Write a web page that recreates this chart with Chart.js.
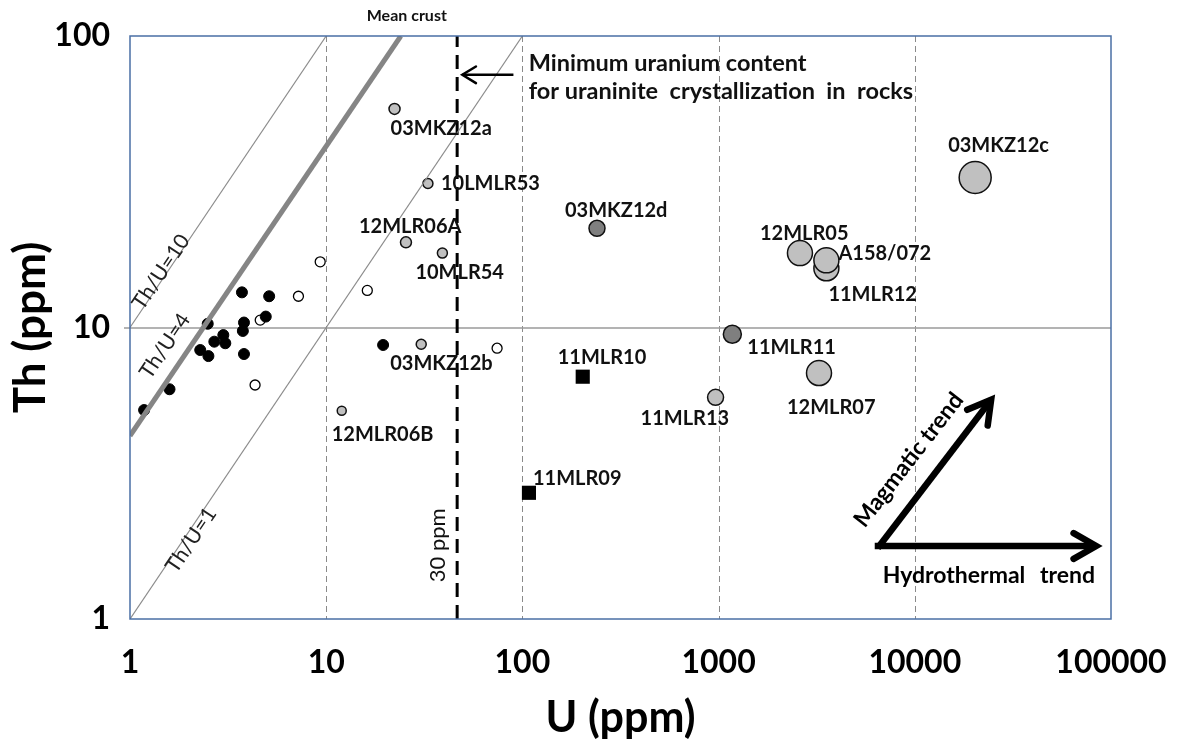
<!DOCTYPE html>
<html><head><meta charset="utf-8">
<script src="https://cdn.jsdelivr.net/npm/chart.js@4.4.1/dist/chart.umd.min.js"></script>
<style>html,body{margin:0;padding:0;background:#fff;}canvas{display:block;}</style>
</head><body>
<canvas id="c" width="1182" height="746"></canvas>
<script>
// ---------- data ----------
const xTicks = [1, 10, 100, 1000, 10000, 100000];
const yTicks = [1, 10, 100];
const xGrid = [10, 100, 1000, 10000];
const yGrid = [10];

const blackU  = [3.72, 5.12, 2.49, 3.81, 4.92, 2.99, 2.69, 3.06, 3.76, 2.28, 2.51, 3.81, 1.59, 1.18, 19.5];
const blackTh = [13.2, 12.8, 10.3, 10.4, 10.9, 9.42, 8.94, 8.83, 9.73, 8.37, 7.98, 8.11, 6.14, 5.21, 8.71];

const openU  = [9.32, 7.22, 4.61, 4.34, 16.2, 74.3];
const openTh = [16.8, 12.8, 10.6, 6.35, 13.4, 8.49];

const grayLabels = ['03MKZ12a','10LMLR53','12MLR06A','10MLR54','03MKZ12b','12MLR06B','11MLR13','12MLR05','11MLR12','A158/072','12MLR07','03MKZ12c'];
const grayU  = [22.3, 33.0, 25.5, 39.1, 30.5, 12.0, 965, 2598, 3543, 3543, 3249, 20310];
const grayTh = [56.2, 31.2, 19.6, 18.0, 8.76, 5.18, 5.76, 18.0, 15.96, 17.0, 6.98, 32.7];

const darkLabels = ['03MKZ12d', '11MLR11'];
const darkU  = [240, 1175];
const darkTh = [21.9, 9.48];

const squareLabels = ['11MLR10', '11MLR09'];
const squareU  = [203, 108];
const squareTh = [6.78, 2.71];

const ratio10U = [1, 10],  ratio10Th = [10, 100];
const ratio1U  = [1, 100], ratio1Th  = [1, 100];
const crustU   = [1, 24], crustTh  = [4.25, 100];
const minUraniumU = [46.5, 46.5], minUraniumTh = [1, 100];

// ---------- styles ----------
const FONT = 'Lato, "Open Sans", sans-serif';
const grayRadius = [5.5, 5, 5.5, 5, 5, 4.5, 8, 12.5, 12.5, 12.5, 12.5, 16];
const labelOffset = {
  '03MKZ12a':[-4,20], '10LMLR53':[13,0], '12MLR06A':[-47,-16], '10MLR54':[-27,19],
  '03MKZ12b':[-31,19], '12MLR06B':[-10,24], '11MLR13':[-75,21], '12MLR05':[-40,-20],
  '11MLR12':[2,26], 'A158/072':[12,-7], '12MLR07':[-32,35], '03MKZ12c':[-27,-32],
  '03MKZ12d':[-32,-18], '11MLR11':[15,13], '11MLR10':[-25,-19], '11MLR09':[4,-14]
};

const pts = (us, ts) => us.map((u, i) => ({x: u, y: ts[i]}));

const refLine = (us, ts, color, width, dash) => ({
  type: 'line', data: pts(us, ts), borderColor: color, borderWidth: width,
  borderDash: dash || [], pointRadius: 0, showLine: true, fill: false, tension: 0
});

const datasets = [
  refLine(ratio10U, ratio10Th, '#8c8c8c', 1.2),
  refLine(ratio1U, ratio1Th, '#8c8c8c', 1.2),
  refLine(crustU, crustTh, '#858585', 5),
  refLine(minUraniumU, minUraniumTh, '#000000', 3, [14, 8]),
  { data: pts(blackU, blackTh), pointRadius: 5.5, pointBackgroundColor: '#000', pointBorderColor: '#000', pointBorderWidth: 1 },
  { data: pts(openU, openTh), pointRadius: 5, pointBackgroundColor: '#fff', pointBorderColor: '#000', pointBorderWidth: 1.3 },
  { data: pts(grayU, grayTh), labels: grayLabels, pointRadius: grayRadius, pointBackgroundColor: '#c0c0c0', pointBorderColor: '#111', pointBorderWidth: 1.5 },
  { data: pts(darkU, darkTh), labels: darkLabels, pointRadius: [8, 9], pointBackgroundColor: '#7f7f7f', pointBorderColor: '#111', pointBorderWidth: 1.5 },
  { data: pts(squareU, squareTh), labels: squareLabels, pointStyle: 'rect', pointRadius: 10, pointBackgroundColor: '#000', pointBorderColor: '#000', pointBorderWidth: 0 }
];

// annotation text anchors (data coords)
const noteText = ['Th/U=10', 'Th/U=4', 'Th/U=1'];
const noteU  = [1.44, 1.51, 2.05];
const noteTh = [15.5, 8.64, 1.866];

function arrow(ctx, x1, y1, x2, y2, w, arm, ang) {
  ctx.save();
  ctx.strokeStyle = '#000'; ctx.lineWidth = w; ctx.lineCap = 'butt';
  ctx.beginPath(); ctx.moveTo(x1, y1); ctx.lineTo(x2, y2); ctx.stroke();
  const a = Math.atan2(y2 - y1, x2 - x1);
  ctx.lineCap = 'round'; ctx.lineJoin = 'miter';
  ctx.beginPath();
  ctx.moveTo(x2 - arm * Math.cos(a - ang), y2 - arm * Math.sin(a - ang));
  ctx.lineTo(x2, y2);
  ctx.lineTo(x2 - arm * Math.cos(a + ang), y2 - arm * Math.sin(a + ang));
  ctx.stroke();
  ctx.restore();
}

const frame = {
  id: 'frame',
  beforeDatasetsDraw(chart) {
    const {ctx, chartArea: a, scales: {x, y}} = chart;
    ctx.save();
    ctx.strokeStyle = '#8a8a8a'; ctx.lineWidth = 1; ctx.setLineDash([6, 4]);
    xGrid.forEach(v => { const p = Math.round(x.getPixelForValue(v)) + 0.5; ctx.beginPath(); ctx.moveTo(p, a.top); ctx.lineTo(p, a.bottom); ctx.stroke(); });
    ctx.setLineDash([]); ctx.strokeStyle = '#9a9a9a'; ctx.lineWidth = 1.5;
    yGrid.forEach(v => { const p = Math.round(y.getPixelForValue(v)); ctx.beginPath(); ctx.moveTo(a.left - 6, p); ctx.lineTo(a.right, p); ctx.stroke(); });
    ctx.restore();
  },
  afterDatasetsDraw(chart) {
    const {ctx, chartArea: a, scales: {x, y}} = chart;
    ctx.save();
    ctx.strokeStyle = '#4a6fa5'; ctx.lineWidth = 1.5;
    ctx.strokeRect(a.left, a.top, a.right - a.left, a.bottom - a.top);
    // point labels
    ctx.fillStyle = '#111'; ctx.font = 'bold 20px ' + FONT; ctx.textBaseline = 'middle'; ctx.textAlign = 'left';
    chart.data.datasets.forEach((ds, di) => {
      if (!ds.labels) return;
      const meta = chart.getDatasetMeta(di);
      meta.data.forEach((el, i) => {
        const t = ds.labels[i]; const o = labelOffset[t] || [10, 0];
        ctx.fillText(t, el.x + o[0], el.y + o[1]);
      });
    });
    // ratio line labels
    const slope = Math.atan2(y.getPixelForValue(10) - y.getPixelForValue(1), x.getPixelForValue(10) - x.getPixelForValue(1));
    ctx.font = '21px ' + FONT; ctx.fillStyle = '#222'; ctx.textAlign = 'center';
    noteText.forEach((t, i) => {
      ctx.save(); ctx.translate(x.getPixelForValue(noteU[i]), y.getPixelForValue(noteTh[i])); ctx.rotate(slope);
      ctx.fillText(t, 0, 0); ctx.restore();
    });
    // 30 ppm
    ctx.save(); ctx.translate(x.getPixelForValue(37.2), y.getPixelForValue(1.79)); ctx.rotate(-Math.PI / 2);
    ctx.font = '22px ' + FONT; ctx.fillStyle = '#111'; ctx.fillText('30 ppm', 0, 0); ctx.restore();
    // Mean crust
    ctx.font = 'bold 16px ' + FONT; ctx.fillStyle = '#111';
    ctx.fillText('Mean crust', x.getPixelForValue(crustU[1]) + 6, a.top - 20);
    // minimum uranium note
    ctx.textAlign = 'left'; ctx.font = 'bold 23.5px ' + FONT;
    ctx.fillText('Minimum uranium content', x.getPixelForValue(107.6), y.getPixelForValue(80.8));
    ctx.fillText('for uraninite  crystallization  in  rocks', x.getPixelForValue(107.6), y.getPixelForValue(64.4));
    arrow(ctx, x.getPixelForValue(90), y.getPixelForValue(73.6), x.getPixelForValue(49.4), y.getPixelForValue(73.6), 2.5, 16, 0.55);
    // trend arrows
    const sx = x.getPixelForValue(6473), sy = y.getPixelForValue(1.78);
    const hx = x.getPixelForValue(84000);
    const mx = x.getPixelForValue(24500), my = y.getPixelForValue(5.65);
    arrow(ctx, sx - 3, sy, hx, sy, 6.5, 26, 0.52);
    arrow(ctx, sx, sy + 2, mx, my, 6.5, 26, 0.52);
    ctx.font = 'bold 23px ' + FONT; ctx.fillStyle = '#000';
    ctx.textAlign = 'left'; ctx.fillText('Hydrothermal', sx + 5, sy + 30);
    ctx.textAlign = 'right'; ctx.fillText('trend', hx - 1, sy + 30);
    const ma = Math.atan2(my - sy, mx - sx);
    ctx.save(); ctx.translate(sx + 31, sy - 86); ctx.rotate(ma); ctx.textAlign = 'center';
    ctx.fillText('Magmatic trend', 0, 0); ctx.restore();
    ctx.restore();
  }
};

const hiddenGrid = { display: true, drawOnChartArea: false, drawTicks: true, tickLength: 20, tickColor: 'rgba(0,0,0,0)', color: 'rgba(0,0,0,0)' };

new Chart(document.getElementById('c'), {
  type: 'scatter',
  data: { datasets },
  options: {
    responsive: false, devicePixelRatio: 1, animation: false,
    layout: { padding: { top: 36, right: 71, left: 0, bottom: 0 } },
    plugins: { legend: { display: false }, tooltip: { enabled: false } },
    scales: {
      x: {
        type: 'logarithmic', min: 1, max: 100000,
        afterBuildTicks: s => { s.ticks = xTicks.map(v => ({value: v})); },
        afterFit: s => { s.height = 127; },
        grid: hiddenGrid, border: { display: false },
        ticks: { padding: 4, color: '#000', font: { family: FONT, size: 32, weight: 'bold' }, callback: v => String(v), maxRotation: 0, autoSkip: false },
        title: { display: true, text: 'U (ppm)', color: '#000', font: { family: FONT, size: 43, weight: 'bold' }, padding: { top: 0, bottom: 2 } }
      },
      y: {
        type: 'logarithmic', min: 1, max: 100,
        afterBuildTicks: s => { s.ticks = yTicks.map(v => ({value: v})); },
        afterFit: s => { s.width = 130; },
        grid: { ...hiddenGrid, tickLength: 18 }, border: { display: false },
        ticks: { padding: 2, color: '#000', font: { family: FONT, size: 32, weight: 'bold' }, callback: v => String(v), autoSkip: false },
        title: { display: true, text: 'Th (ppm)', color: '#000', font: { family: FONT, size: 44, weight: 'bold' }, padding: { top: 4, bottom: 0 } }
      }
    }
  },
  plugins: [frame]
});
</script>
</body></html>
